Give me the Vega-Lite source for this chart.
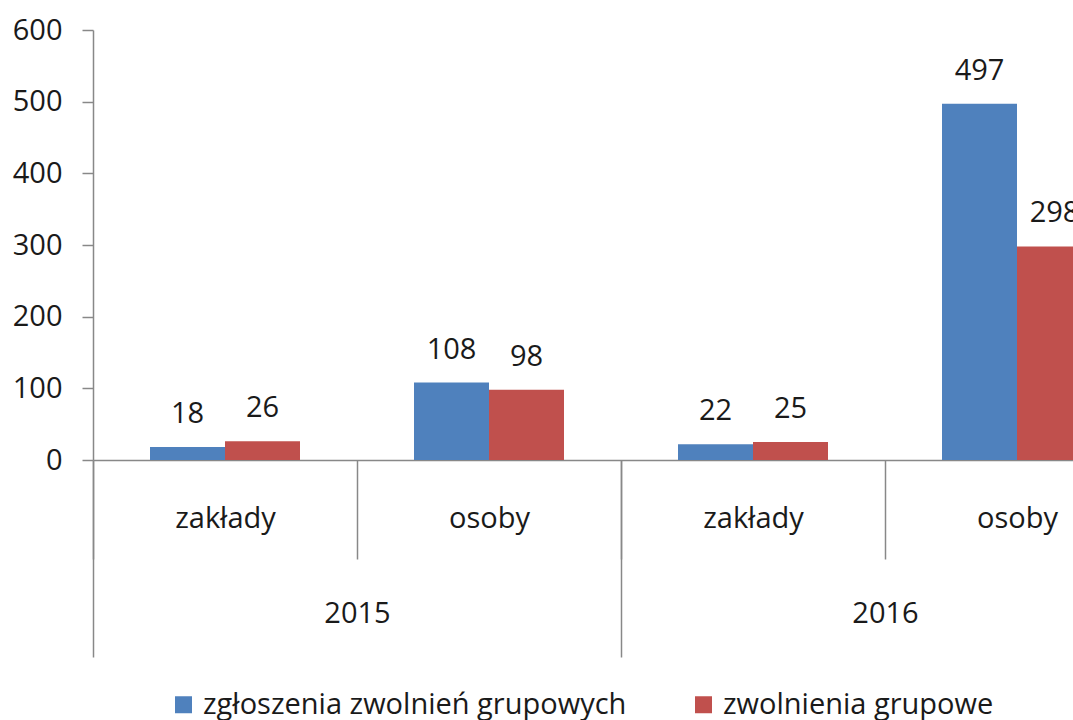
{
  "$schema": "https://vega.github.io/schema/vega-lite/v6.json",
  "autosize": {"type": "none"},
  "width": 980,
  "height": 430,
  "padding": {"left": 93, "top": 30, "right": 0, "bottom": 260},
  "background": "white",
  "config": {
    "font": "Open Sans",
    "view": {"stroke": null},
    "axis": {"grid": false, "domainColor": "#888888", "tickColor": "#888888", "labelColor": "#1a1a1a", "labelFontSize": 29, "labelFont": "Open Sans", "title": null, "domainWidth": 1.5, "tickWidth": 1.5}
  },
  "data": {
    "values": [
      {"rok": "2015", "kategoria": "zakłady", "grupa": "2015 zakłady", "seria": "zgłoszenia zwolnień grupowych", "wartosc": 18},
      {"rok": "2015", "kategoria": "zakłady", "grupa": "2015 zakłady", "seria": "zwolnienia grupowe", "wartosc": 26},
      {"rok": "2015", "kategoria": "osoby", "grupa": "2015 osoby", "seria": "zgłoszenia zwolnień grupowych", "wartosc": 108},
      {"rok": "2015", "kategoria": "osoby", "grupa": "2015 osoby", "seria": "zwolnienia grupowe", "wartosc": 98},
      {"rok": "2016", "kategoria": "zakłady", "grupa": "2016 zakłady", "seria": "zgłoszenia zwolnień grupowych", "wartosc": 22},
      {"rok": "2016", "kategoria": "zakłady", "grupa": "2016 zakłady", "seria": "zwolnienia grupowe", "wartosc": 25},
      {"rok": "2016", "kategoria": "osoby", "grupa": "2016 osoby", "seria": "zgłoszenia zwolnień grupowych", "wartosc": 497},
      {"rok": "2016", "kategoria": "osoby", "grupa": "2016 osoby", "seria": "zwolnienia grupowe", "wartosc": 298}
    ]
  },
  "resolve": {"scale": {"x": "independent"}, "axis": {"x": "independent"}},
  "layer": [
    {
      "encoding": {
        "x": {
          "field": "grupa", "type": "nominal",
          "sort": ["2015 zakłady", "2015 osoby", "2016 zakłady", "2016 osoby"],
          "scale": {"range": [0, 1056], "paddingInner": 0, "paddingOuter": 0},
          "axis": {"orient": "bottom", "labelExpr": "split(datum.label, ' ')[1]", "tickBand": "extent", "tickSize": 99, "labelPadding": -41, "labelBaseline": "middle", "labelAngle": 0, "labelOverlap": false, "labelBound": false}
        },
        "xOffset": {
          "field": "seria", "type": "nominal",
          "sort": ["zgłoszenia zwolnień grupowych", "zwolnienia grupowe"],
          "scale": {"paddingOuter": 0.76, "paddingInner": 0}
        },
        "y": {
          "field": "wartosc", "type": "quantitative",
          "scale": {"domain": [0, 600], "nice": false},
          "axis": {"values": [0, 100, 200, 300, 400, 500, 600], "tickSize": 11, "labelPadding": 20}
        }
      },
      "layer": [
        {
          "mark": {"type": "bar", "clip": true},
          "encoding": {
            "color": {
              "field": "seria", "type": "nominal",
              "scale": {"domain": ["zgłoszenia zwolnień grupowych", "zwolnienia grupowe"], "range": ["#4F81BD", "#C0504D"]},
              "legend": {"orient": "none", "legendX": 76, "legendY": 660, "direction": "horizontal", "title": null, "symbolType": "square", "symbolSize": 289, "symbolStrokeWidth": 0, "labelFontSize": 29, "labelColor": "#1a1a1a", "labelOffset": 5, "labelLimit": 0, "columnPadding": 62, "padding": 0}
            }
          }
        },
        {
          "mark": {"type": "text", "baseline": "alphabetic", "dy": -24, "fontSize": 29, "color": "#1a1a1a"},
          "encoding": {"text": {"field": "wartosc", "type": "quantitative"}}
        }
      ]
    },
    {
      "mark": {"type": "point", "opacity": 0},
      "encoding": {
        "x": {
          "field": "rok", "type": "nominal",
          "sort": ["2015", "2016"],
          "scale": {"range": [0, 1056], "paddingInner": 0, "paddingOuter": 0},
          "axis": {"orient": "bottom", "domain": false, "tickBand": "extent", "tickSize": 197, "labelPadding": -44, "labelBaseline": "middle", "labelAngle": 0, "labelOverlap": false, "labelBound": false}
        }
      }
    }
  ]
}
